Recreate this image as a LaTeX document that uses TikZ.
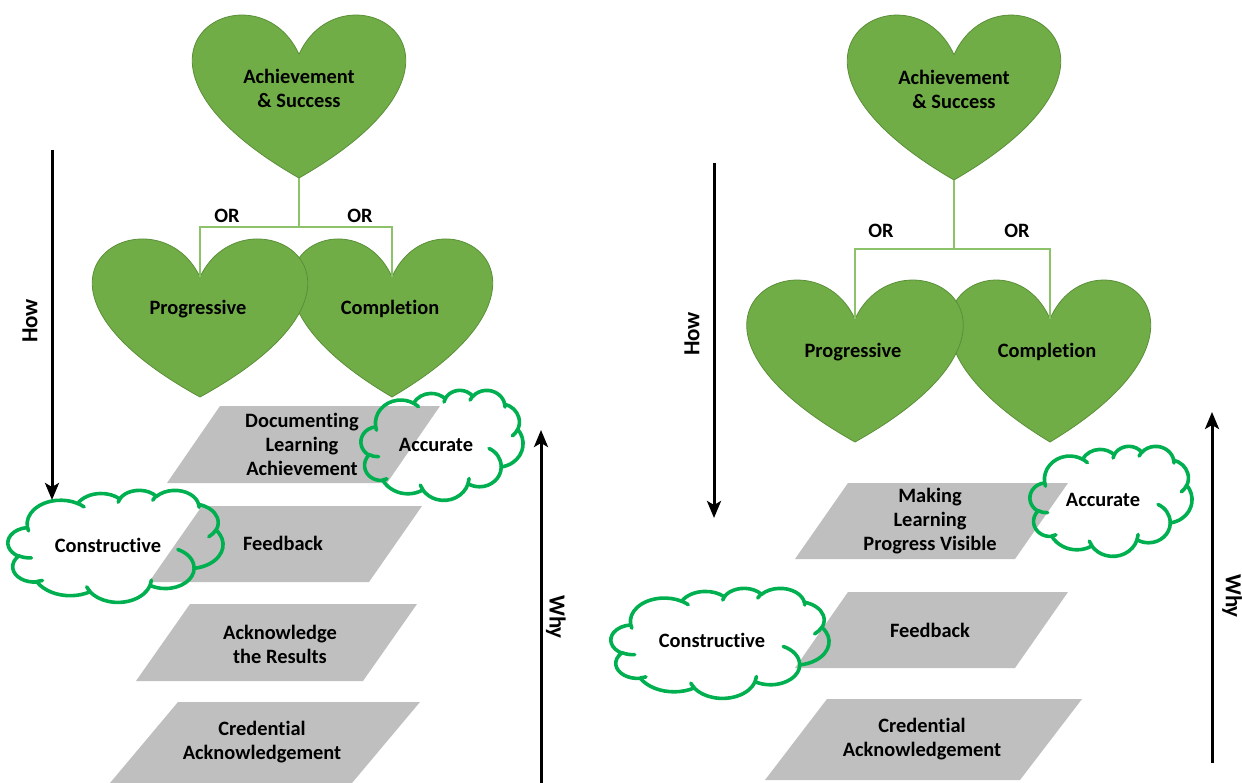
\documentclass[tikz,border=0pt]{standalone}
\usepackage{fontspec}
\setmainfont{Carlito}[Ligatures={NoCommon,NoRequired,NoContextual}]
\usetikzlibrary{arrows.meta}

\definecolor{heartgreen}{HTML}{70AD47}
\definecolor{heartedge}{HTML}{5A8F38}
\definecolor{conngreen}{HTML}{8CC269}
\definecolor{cloudgreen}{HTML}{00B050}
\definecolor{pgray}{HTML}{BFBFBF}

% visual (DrawingML) arc angles -> parametric TikZ angles
\newcommand\mkarc[5]{%
  \pgfmathsetmacro\tmpts{atan2((#2)*sin(#4),(#3)*cos(#4))}%
  \pgfmathsetmacro\tmpte{atan2((#2)*sin((#4)+(#5)),(#3)*cos((#4)+(#5)))}%
  \pgfmathsetmacro\tmpdt{\tmpte-\tmpts}%
  \pgfmathsetmacro\tmpdt{\tmpdt+360*round(((#5)-\tmpdt)/360)}%
  \expandafter\xdef\csname clS#1\endcsname{\tmpts}%
  \expandafter\xdef\csname clD#1\endcsname{\tmpdt}%
}
\mkarc{a}{67.53}{91.90}{-190.4875}{123.7805}
\mkarc{b}{53.33}{72.67}{-144.1024}{89.9452}
\mkarc{c}{43.65}{59.45}{-145.8079}{99.7230}
\mkarc{d}{48.57}{65.95}{-130.9861}{117.2417}
\mkarc{e}{53.33}{72.73}{-78.7089}{109.0269}
\mkarc{f}{67.75}{92.20}{-46.2673}{130.2690}
\mkarc{g}{57.85}{78.67}{0.6250}{114.0333}
\mkarc{h}{67.52}{92.15}{22.4516}{115.1726}
\mkarc{i}{77.20}{105.43}{66.2426}{75.7110}
\mkarc{j}{43.60}{59.18}{-274.9421}{146.7356}
\mkarc{k}{43.45}{59.45}{-246.8285}{152.5189}
\mkarc{ia}{43.45}{59.45}{86.7420}{26.4295}
\mkarc{ib}{43.60}{59.18}{73.6105}{11.4475}
\mkarc{ic}{67.52}{92.15}{137.6242}{14.0811}
\mkarc{id}{67.52}{92.15}{6.4533}{15.9984}
\mkarc{ie}{57.85}{78.67}{-70.2924}{70.9174}
\mkarc{if}{53.33}{72.73}{30.3180}{27.7515}
\mkarc{ig}{48.57}{65.95}{-13.7443}{14.8589}
\mkarc{ih}{48.57}{65.95}{-149.1815}{18.1954}
\mkarc{ii}{43.65}{59.45}{-163.4943}{17.6864}
\mkarc{ij}{67.53}{91.90}{-66.7070}{12.3194}
\mkarc{ik}{67.53}{91.90}{157.6544}{11.8582}

\newcommand\carc[3]{arc[start angle=\csname clS#1\endcsname, delta angle=\csname clD#1\endcsname, x radius=#2, y radius=#3]}

% cloud in frame: left x, top y, width, height (pixels, y downwards)
\newcommand\officecloud[4]{%
  \pgfmathsetmacro\clw{#3/432}\pgfmathsetmacro\clh{#4/432}%
  \begin{scope}[shift={(#1,-#2)},x=\clw pt,y=-\clh pt]
    \draw[cloudline] (39.00,143.70) \carc{a}{67.53}{91.90} \carc{b}{53.33}{72.67}
      \carc{c}{43.65}{59.45} \carc{d}{48.57}{65.95} \carc{e}{53.33}{72.73}
      \carc{f}{67.75}{92.20} \carc{g}{57.85}{78.67} \carc{h}{67.52}{92.15}
      \carc{i}{77.20}{105.43} \carc{j}{43.60}{59.18} \carc{k}{43.45}{59.45} -- cycle;
    \draw[cloudline] (46.93,261.77) \carc{ia}{43.45}{59.45}
      (69.28,348.99) \carc{ib}{43.60}{59.18}
      (164.78,390.90) \carc{ic}{67.52}{92.15}
      (288.27,347.51) \carc{id}{67.52}{92.15}
      (341.29,229.54) \carc{ie}{57.85}{78.67}
      (417.98,153.54) \carc{if}{53.33}{72.73}
      (383.24,54.26) \carc{ig}{48.57}{65.95}
      (290.78,39.52) \carc{ih}{48.57}{65.95}
      (221.41,47.20) \carc{ii}{43.65}{59.45}
      (140.00,51.92) \carc{ij}{67.53}{91.90}
      (41.27,157.89) \carc{ik}{67.53}{91.90};
  \end{scope}}

% heart: centre x, top y, width, height (pixels, y downwards)
\newcommand\heartshape[4]{%
  \begin{scope}[shift={(#1,-#2)},x=#3pt,y=-#4pt]
    \path[heartfill] (0,0.25) .. controls (0.208333,-0.333333) and (1.020833,0.25) .. (0,1)
      .. controls (-1.020833,0.25) and (-0.208333,-0.333333) .. (0,0.25) -- cycle;
  \end{scope}}

\newcommand\lblfont{\fontsize{20.4}{24}\selectfont\bfseries}
\newcommand\axisfont{\fontsize{23}{27}\selectfont\bfseries}

\begin{document}
\begin{tikzpicture}[x=1pt,y=1pt,
  heartfill/.style={fill=heartgreen,draw=heartedge,line width=0.8pt,line join=round},
  conn/.style={draw=conngreen,line width=1.3pt},
  pgram/.style={fill=pgray},
  cloudline/.style={draw=cloudgreen,line width=3.6pt,line join=round,line cap=round},
  lbl/.style={font=\lblfont,align=center,inner sep=0pt,text=black},
  axislbl/.style={font=\axisfont,inner sep=0pt,text=black},
  bigarrow/.style={draw=black,line width=3pt,-{Stealth[length=17pt,width=14pt,inset=4pt]}}]

\fill[white] (0,0) rectangle (1242,-783);
\useasboundingbox (0,0) rectangle (1242,-783);

% ---------------- left panel ----------------
\heartshape{392}{237}{200}{160}
\heartshape{200}{237}{214}{160}
\heartshape{299}{13}{212}{165}

\coordinate (L-top-tip) at (299,-178);
\coordinate (L-junction) at (299,-227);
\coordinate (L-prog-notch) at (200,-277);
\coordinate (L-comp-notch) at (392,-277);
\draw[conn] (L-top-tip) -- (L-junction);
\draw[conn] (L-prog-notch) |- (L-junction) -| (L-comp-notch);

\fill[pgram] (220,-406) -- (440,-406) -- (387,-483) -- (167,-483) -- cycle;
\fill[pgram] (202,-506) -- (422,-506) -- (369,-582) -- (149,-582) -- cycle;
\fill[pgram] (190,-604) -- (417,-604) -- (363,-681) -- (136,-681) -- cycle;
\fill[pgram] (178,-702) -- (420,-702) -- (352,-783) -- (110,-783) -- cycle;

\officecloud{361}{390}{162}{110}
\officecloud{8}{490}{215}{112}

\node[lbl] (L-ach) at (299,-88) {Achievement\\\& Success};
\node[lbl] (L-prog) at (198,-309) {Progressive};
\node[lbl] (L-comp) at (390,-309) {Completion};
\node[lbl] (L-or1) at (227,-216) {OR};
\node[lbl] (L-or2) at (360,-216) {OR};
\node[lbl] (L-doc) at (302,-444) {Documenting\\Learning\\Achievement};
\node[lbl] (L-feed) at (283,-543) {Feedback};
\node[lbl] (L-ack) at (280,-644) {Acknowledge\\the Results};
\node[lbl] (L-cred) at (262,-742) {Credential\\Acknowledgement};
\node[lbl] (L-acc) at (436,-445) {Accurate};
\node[lbl] (L-con) at (108,-545) {Constructive};

\coordinate (L-how-a) at (52,-150);
\coordinate (L-how-b) at (52,-500);
\draw[bigarrow] (L-how-a) -- (L-how-b);
\node[axislbl,rotate=90] (L-how) at (30,-321) {How};
\coordinate (L-why-a) at (541,-783);
\coordinate (L-why-b) at (541,-430);
\draw[bigarrow] (L-why-a) -- (L-why-b);
\node[axislbl,rotate=-90] (L-why) at (556,-617) {Why};

% ---------------- right panel ----------------
\heartshape{1050}{278}{200}{164}
\heartshape{855}{278}{215}{164}
\heartshape{954}{13}{212}{167}

\coordinate (R-top-tip) at (954,-180);
\coordinate (R-junction) at (954,-249);
\coordinate (R-prog-notch) at (855,-319);
\coordinate (R-comp-notch) at (1050,-319);
\draw[conn] (R-top-tip) -- (R-junction);
\draw[conn] (R-prog-notch) |- (R-junction) -| (R-comp-notch);

\fill[pgram] (848,-483) -- (1068,-483) -- (1015,-559) -- (795,-559) -- cycle;
\fill[pgram] (848,-592) -- (1068,-592) -- (1015,-668) -- (795,-668) -- cycle;
\fill[pgram] (827,-699) -- (1082,-699) -- (1020,-780) -- (765,-780) -- cycle;

\officecloud{1030}{446}{162}{110}
\officecloud{611}{588}{218}{110}

\node[lbl] (R-ach) at (954,-89) {Achievement\\\& Success};
\node[lbl] (R-prog) at (853,-352) {Progressive};
\node[lbl] (R-comp) at (1047,-352) {Completion};
\node[lbl] (R-or1) at (881,-231) {OR};
\node[lbl] (R-or2) at (1017,-231) {OR};
\node[lbl] (R-mak) at (930,-521) {Making\\Learning\\Progress Visible};
\node[lbl] (R-feed) at (930,-630) {Feedback};
\node[lbl] (R-cred) at (922,-739) {Credential\\Acknowledgement};
\node[lbl] (R-acc) at (1103,-500) {Accurate};
\node[lbl] (R-con) at (712,-640) {Constructive};

\coordinate (R-how-a) at (714,-163);
\coordinate (R-how-b) at (714,-518);
\draw[bigarrow] (R-how-a) -- (R-how-b);
\node[axislbl,rotate=90] (R-how) at (692,-334) {How};
\coordinate (R-why-a) at (1212,-763);
\coordinate (R-why-b) at (1212,-412);
\draw[bigarrow] (R-why-a) -- (R-why-b);
\node[axislbl,rotate=-90] (R-why) at (1232,-596) {Why};
\end{tikzpicture}
\end{document}
